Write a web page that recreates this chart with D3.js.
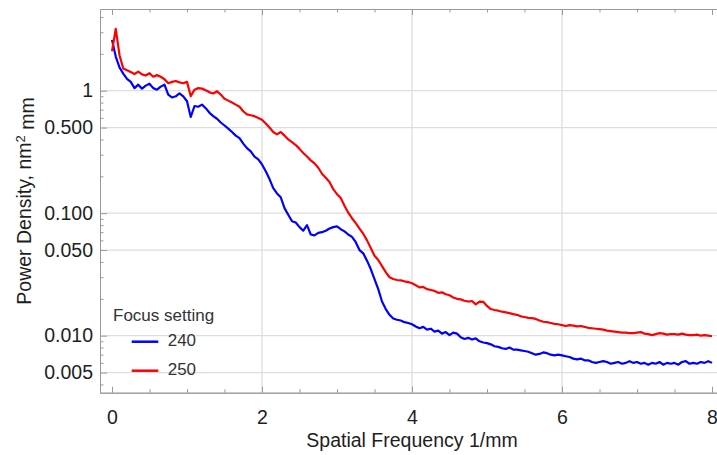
<!DOCTYPE html>
<html>
<head>
<meta charset="utf-8">
<script src="https://cdn.jsdelivr.net/npm/d3@7"></script>
<style>
  body { margin: 0; background: #fff; }
  text { font-family: "Liberation Sans", Arial, sans-serif; }
</style>
</head>
<body>
<div id="chart"></div>
<script>
// spatial frequency grid, 1/mm (0 to 8 in steps of 0.05)
var freq = d3.range(0, 161).map(i => +(i * 0.05).toFixed(2));

// power density, focus setting 240
var focus240 = [
  2.6, 1.9, 1.55, 1.38, 1.25, 1.18, 1.05, 1.12, 1.04, 1.10,
  1.14, 1.05, 1.02, 1.08, 1.12, 0.93, 0.88, 0.90, 0.95, 0.90,
  0.82, 0.61, 0.75, 0.74, 0.77, 0.72, 0.66, 0.62, 0.59, 0.55,
  0.52, 0.49, 0.46, 0.43, 0.41, 0.37, 0.34, 0.32, 0.29, 0.275,
  0.25, 0.22, 0.19, 0.16, 0.145, 0.135, 0.11, 0.097, 0.086, 0.084,
  0.077, 0.072, 0.080, 0.067, 0.066, 0.069, 0.070, 0.072, 0.075, 0.077,
  0.078, 0.074, 0.071, 0.067, 0.064, 0.058, 0.050, 0.047, 0.041, 0.035,
  0.029, 0.024, 0.019, 0.0165, 0.0148, 0.0138, 0.0135, 0.0133, 0.0129, 0.0127,
  0.0124, 0.0119, 0.0115, 0.0118, 0.0112, 0.0114, 0.0108, 0.0110, 0.0104, 0.0107,
  0.0101, 0.0106, 0.0104, 0.0097, 0.0094, 0.0096, 0.0093, 0.0095, 0.0090, 0.0088,
  0.0087, 0.0085, 0.0082, 0.0081, 0.0079, 0.0078, 0.0080, 0.0077, 0.0077, 0.0076,
  0.0075, 0.0074, 0.0072, 0.0070, 0.0071, 0.0073, 0.0072, 0.0070, 0.0069, 0.0070,
  0.0069, 0.0068, 0.0067, 0.0065, 0.0064, 0.0065, 0.0063, 0.0063, 0.0061, 0.0060,
  0.0061, 0.0062, 0.0061, 0.0059, 0.0060, 0.0061, 0.0059, 0.0060, 0.0062, 0.0060,
  0.0061, 0.0059, 0.0060, 0.0058, 0.0060, 0.0059, 0.0061, 0.0058, 0.0060, 0.0059,
  0.0060, 0.0058, 0.0061, 0.0062, 0.0059, 0.0060, 0.0059, 0.0061, 0.0060, 0.0062,
  0.0060
];

// power density, focus setting 250
var focus250 = [
  2.1, 3.2, 1.95, 1.52, 1.47, 1.42, 1.37, 1.43, 1.36, 1.33,
  1.39, 1.30, 1.34, 1.30, 1.24, 1.15, 1.18, 1.20, 1.17, 1.15,
  1.18, 0.90, 1.02, 1.05, 1.04, 1.01, 0.97, 0.95, 0.99, 0.93,
  0.86, 0.83, 0.80, 0.77, 0.74, 0.68, 0.64, 0.63, 0.62, 0.60,
  0.58, 0.54, 0.50, 0.46, 0.44, 0.46, 0.43, 0.40, 0.38, 0.36,
  0.335, 0.31, 0.29, 0.27, 0.255, 0.235, 0.21, 0.195, 0.18, 0.157,
  0.143, 0.133, 0.115, 0.101, 0.091, 0.083, 0.075, 0.068, 0.060, 0.052,
  0.045, 0.0415, 0.037, 0.033, 0.030, 0.029, 0.0285, 0.0283, 0.0278, 0.0274,
  0.0268, 0.0258, 0.0248, 0.0250, 0.0240, 0.0236, 0.0232, 0.0224, 0.0226, 0.0218,
  0.0214, 0.0205, 0.0200, 0.0198, 0.0193, 0.0190, 0.0192, 0.0180, 0.0190, 0.0189,
  0.0175, 0.0165, 0.0162, 0.0160, 0.0157, 0.0155, 0.0153, 0.0150, 0.0148, 0.0144,
  0.0142, 0.0140, 0.0139, 0.0137, 0.0133, 0.0130, 0.0129, 0.0127, 0.0125, 0.0124,
  0.0122, 0.0120, 0.0122, 0.0121, 0.0119, 0.0120, 0.0118, 0.0116, 0.0115, 0.0114,
  0.0113, 0.0112, 0.0110, 0.0109, 0.0108, 0.0107, 0.0106, 0.0106, 0.0105, 0.0105,
  0.0106, 0.0107, 0.0104, 0.0103, 0.0101, 0.0103, 0.0105, 0.0104, 0.0102, 0.0103,
  0.0103, 0.0102, 0.0104, 0.0102, 0.0101, 0.0101, 0.0102, 0.0100, 0.0101, 0.0100,
  0.0099
];

var seriesNames = ["240", "250"];
var seriesColors = ["#0000ff", "#ff0000"];

var xMajor = [0, 2, 4, 6, 8];
var xMinor = [0.5, 1, 1.5, 2.5, 3, 3.5, 4.5, 5, 5.5, 6.5, 7, 7.5];
var xGrid = [2, 4, 6];
var yMajor = [1, 0.5, 0.1, 0.05, 0.01, 0.005];
var yLabels = ["1", "0.500", "0.100", "0.050", "0.010", "0.005"];
var yMinor = [4, 3, 2, 0.9, 0.8, 0.7, 0.6, 0.4, 0.3, 0.2,
              0.09, 0.08, 0.07, 0.06, 0.04, 0.03, 0.02,
              0.009, 0.008, 0.007, 0.006, 0.004];

var svgWidth = 717;
var svgHeight = 455;
var plotLeft = 100, plotRight = 724, plotTop = 9, plotBottom = 392.7;

var svg = d3.select("#chart")
  .append("svg")
    .attr("width", svgWidth)
    .attr("height", svgHeight);

var x = d3.scaleLinear()
  .domain([-0.16, 8.16])
  .range([plotLeft, plotRight]);

var y = d3.scaleLog()
  .domain([0.003425, 4.645])
  .range([plotBottom, plotTop]);

// grid
svg.append("g").selectAll("line")
  .data(yMajor)
  .enter()
  .append("line")
    .attr("x1", plotLeft).attr("x2", plotRight)
    .attr("y1", d => y(d)).attr("y2", d => y(d))
    .attr("stroke", "#dedede")
    .attr("stroke-width", 1.3);

svg.append("g").selectAll("line")
  .data(xGrid)
  .enter()
  .append("line")
    .attr("x1", d => x(d)).attr("x2", d => x(d))
    .attr("y1", plotTop).attr("y2", plotBottom)
    .attr("stroke", "#dedede")
    .attr("stroke-width", 1.3);

// curves
svg.append("clipPath")
    .attr("id", "plotClip")
  .append("rect")
    .attr("x", plotLeft).attr("y", plotTop)
    .attr("width", plotRight - plotLeft).attr("height", plotBottom - plotTop);

var line = d3.line()
  .x(d => x(d[0]))
  .y(d => y(d[1]));

[focus240, focus250].forEach(function(vals, i) {
  svg.append("path")
    .datum(freq.map((f, j) => [f, vals[j]]))
    .attr("clip-path", "url(#plotClip)")
    .attr("fill", "none")
    .attr("stroke", seriesColors[i])
    .attr("stroke-width", 2.2)
    .attr("stroke-linejoin", "round")
    .attr("d", line);
});

// axes, ticks pointing inward
function styleAxis(g) {
  g.select(".domain").attr("stroke", "#9a9a9a");
  g.selectAll(".tick line").attr("stroke", "#9a9a9a");
  g.selectAll(".tick text")
    .attr("fill", "#1e1e1e")
    .style("font-size", "19.5px")
    .style("font-family", "'Liberation Sans', Arial, sans-serif");
}

svg.append("g")
  .attr("transform", `translate(0, ${plotBottom})`)
  .call(d3.axisBottom(x).tickValues(xMinor).tickFormat("").tickSizeInner(-3.5).tickSizeOuter(0))
  .call(styleAxis);

svg.append("g")
  .attr("transform", `translate(0, ${plotBottom})`)
  .call(d3.axisBottom(x).tickValues(xMajor).tickFormat(d3.format("d")).tickSizeInner(-6).tickSizeOuter(0).tickPadding(17))
  .call(styleAxis);

svg.append("g")
  .attr("transform", `translate(0, ${plotTop})`)
  .call(d3.axisTop(x).tickValues(xMinor).tickFormat("").tickSizeInner(-3.5).tickSizeOuter(0))
  .call(styleAxis);

svg.append("g")
  .attr("transform", `translate(0, ${plotTop})`)
  .call(d3.axisTop(x).tickValues(xMajor).tickFormat("").tickSizeInner(-6).tickSizeOuter(0))
  .call(styleAxis);

svg.append("g")
  .attr("transform", `translate(${plotLeft}, 0)`)
  .call(d3.axisLeft(y).tickValues(yMinor).tickFormat("").tickSizeInner(-3.5).tickSizeOuter(0))
  .call(styleAxis);

svg.append("g")
  .attr("transform", `translate(${plotLeft}, 0)`)
  .call(d3.axisLeft(y).tickValues(yMajor).tickFormat((d, i) => yLabels[i]).tickSizeInner(-7).tickSizeOuter(0).tickPadding(7))
  .call(styleAxis);

// axis titles
svg.append("text")
  .attr("x", 412)
  .attr("y", 447)
  .attr("text-anchor", "middle")
  .attr("fill", "#1e1e1e")
  .style("font-size", "19.5px")
  .text("Spatial Frequency 1/mm");

var yTitle = svg.append("text")
  .attr("transform", "translate(31, 201) rotate(-90)")
  .attr("text-anchor", "middle")
  .attr("fill", "#1e1e1e")
  .style("font-size", "19.5px");
yTitle.append("tspan").text("Power Density, nm");
yTitle.append("tspan").attr("dy", "-0.45em").style("font-size", "13px").text("2");
yTitle.append("tspan").attr("dy", "0.45em").text(" mm");

// legend
var legend = svg.append("g");
legend.append("text")
  .attr("x", 113)
  .attr("y", 321)
  .attr("fill", "#333")
  .style("font-size", "17px")
  .text("Focus setting");

seriesNames.forEach(function(name, i) {
  var ly = 341.7 + i * 29;
  legend.append("line")
    .attr("x1", 131.7).attr("x2", 158.3)
    .attr("y1", ly).attr("y2", ly)
    .attr("stroke", seriesColors[i])
    .attr("stroke-width", 2.5);
  legend.append("text")
    .attr("x", 167.7)
    .attr("y", ly + 4.5)
    .attr("fill", "#333")
    .style("font-size", "17px")
    .text(name);
});
</script>
</body>
</html>
